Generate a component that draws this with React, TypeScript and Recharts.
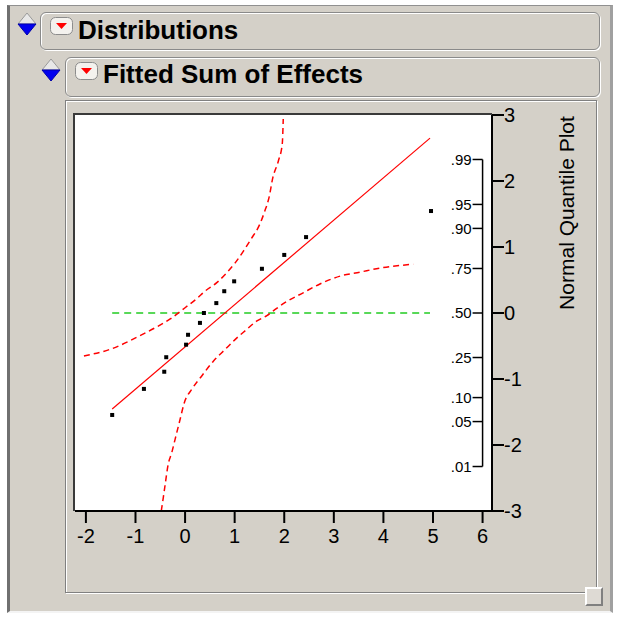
import {
  ComposedChart,
  Line,
  ReferenceLine,
  Scatter,
  XAxis,
  YAxis,
} from "recharts";

const points = [
  { x: -1.47, z: -1.545 },
  { x: -0.83, z: -1.15 },
  { x: -0.42, z: -0.89 },
  { x: -0.38, z: -0.67 },
  { x: 0.02, z: -0.48 },
  { x: 0.06, z: -0.33 },
  { x: 0.3, z: -0.15 },
  { x: 0.38, z: 0.0 },
  { x: 0.63, z: 0.15 },
  { x: 0.79, z: 0.33 },
  { x: 0.99, z: 0.48 },
  { x: 1.55, z: 0.67 },
  { x: 2.0, z: 0.88 },
  { x: 2.44, z: 1.15 },
  { x: 4.96, z: 1.545 },
];

const fitLine = [
  { x: -1.47, z: -1.455 },
  { x: 4.94, z: 2.65 },
];

const zeroLine = [
  { x: -1.47, z: 0 },
  { x: 4.94, z: 0 },
];

const upperBand = [
  { x: -2.04, z: -0.65 },
  { x: -1.51, z: -0.55 },
  { x: -0.85, z: -0.32 },
  { x: -0.57, z: -0.21 },
  { x: -0.3, z: -0.09 },
  { x: 0.0, z: 0.08 },
  { x: 0.24, z: 0.22 },
  { x: 0.4, z: 0.33 },
  { x: 0.64, z: 0.46 },
  { x: 0.84, z: 0.61 },
  { x: 1.01, z: 0.76 },
  { x: 1.17, z: 0.93 },
  { x: 1.33, z: 1.12 },
  { x: 1.51, z: 1.35 },
  { x: 1.61, z: 1.55 },
  { x: 1.69, z: 1.74 },
  { x: 1.77, z: 2.05 },
  { x: 1.88, z: 2.3 },
  { x: 1.96, z: 2.56 },
  { x: 1.98, z: 2.94 },
];

const lowerBand = [
  { x: -0.48, z: -3.0 },
  { x: -0.44, z: -2.8 },
  { x: -0.4, z: -2.59 },
  { x: -0.34, z: -2.29 },
  { x: -0.27, z: -2.12 },
  { x: -0.2, z: -1.91 },
  { x: -0.1, z: -1.61 },
  { x: -0.02, z: -1.37 },
  { x: 0.14, z: -1.15 },
  { x: 0.34, z: -0.95 },
  { x: 0.57, z: -0.73 },
  { x: 0.81, z: -0.55 },
  { x: 1.04, z: -0.38 },
  { x: 1.21, z: -0.27 },
  { x: 1.45, z: -0.12 },
  { x: 1.65, z: -0.04 },
  { x: 1.81, z: 0.05 },
  { x: 2.02, z: 0.16 },
  { x: 2.39, z: 0.31 },
  { x: 2.72, z: 0.44 },
  { x: 3.13, z: 0.56 },
  { x: 3.53, z: 0.62 },
  { x: 3.93, z: 0.68 },
  { x: 4.6, z: 0.74 },
];

const xTicks = [-2, -1, 0, 1, 2, 3, 4, 5, 6];
const zTicks = [-3, -2, -1, 0, 1, 2, 3];

// probability scale drawn at x = 6
const probTicks = [
  { x: 6, z: -2.326, label: ".01" },
  { x: 6, z: -1.645, label: ".05" },
  { x: 6, z: -1.2816, label: ".10" },
  { x: 6, z: -0.6745, label: ".25" },
  { x: 6, z: 0, label: ".50" },
  { x: 6, z: 0.6745, label: ".75" },
  { x: 6, z: 1.2816, label: ".90" },
  { x: 6, z: 1.645, label: ".95" },
  { x: 6, z: 2.326, label: ".99" },
];

const FONT = "Arial, 'Liberation Sans', sans-serif";
const GRAY = "#D4D0C8";

const Square = (props: any) => (
  <rect x={props.cx - 2} y={props.cy - 2} width={4} height={4} fill="#000" />
);

const ProbTick = (props: any) => (
  <g>
    <line x1={props.cx - 10} y1={props.cy} x2={props.cx} y2={props.cy} stroke="#000" strokeWidth={1.5} />
    <text
      x={props.cx - 11}
      y={props.cy}
      dy="0.35em"
      textAnchor="end"
      fontSize={15}
      fontFamily={FONT}
      fill="#000"
    >
      {props.payload.label}
    </text>
  </g>
);

const QuantileLabel = (props: any) => {
  const vb = props.viewBox || {};
  const cx = (vb.x ?? 492) + 75;
  const cy = (vb.y ?? 115) + 98;
  return (
    <text
      x={cx}
      y={cy}
      transform={`rotate(-90, ${cx}, ${cy})`}
      textAnchor="middle"
      dy="0.35em"
      fontSize={21}
      fontFamily={FONT}
      fill="#000"
    >
      Normal Quantile Plot
    </text>
  );
};

function Diamond({ cx, cy }: { cx: number; cy: number }) {
  return (
    <svg
      width={22}
      height={24}
      style={{ position: "absolute", left: cx - 11, top: cy - 12 }}
    >
      <polygon points="11,1 20,12 2,12" fill="#e8e8e8" stroke="#9a9a9a" strokeWidth={1} />
      <polygon points="2,12 20,12 11,23" fill="#0000ee" stroke="#0000aa" strokeWidth={1} />
    </svg>
  );
}

function RedButton({ left, top }: { left: number; top: number }) {
  return (
    <svg width={23} height={18} style={{ position: "absolute", left, top }}>
      <rect x={0.5} y={0.5} width={22} height={17} rx={5} fill="#f4f2ee" stroke="#8c8c8c" />
      <polygon points="6,6 17,6 11.5,12" fill="#ff0000" />
    </svg>
  );
}

function Header({
  left,
  top,
  width,
  height,
  title,
  textTop,
}: {
  left: number;
  top: number;
  width: number;
  height: number;
  title: string;
  textTop: number;
}) {
  return (
    <>
      <div
        style={{
          position: "absolute",
          left,
          top,
          width,
          height,
          boxSizing: "border-box",
          border: "1px solid #8a8a8a",
          borderRadius: 6,
          boxShadow: "inset 1px 1px 0 #fff, 1px 1px 0 #fff",
          background: GRAY,
        }}
      />
      <RedButton left={left + 10} top={top + 5} />
      <div
        style={{
          position: "absolute",
          left: left + 38,
          top: textTop,
          fontFamily: FONT,
          fontWeight: "bold",
          fontSize: 26,
          lineHeight: "26px",
          color: "#000",
          whiteSpace: "nowrap",
        }}
      >
        {title}
      </div>
    </>
  );
}

export default function App() {
  return (
    <div
      style={{
        position: "absolute",
        left: 0,
        top: 0,
        width: 617,
        height: 619,
        background: "#fff",
        overflow: "hidden",
      }}
    >
      <div
        style={{
          position: "absolute",
          left: 7,
          top: 5,
          width: 606,
          height: 608,
          boxSizing: "border-box",
          background: GRAY,
          borderLeft: "3px solid #707070",
          borderTop: "1px solid #909090",
          borderRight: "3px solid #a0a0a0",
          borderBottom: "2px solid #f4f4f4",
        }}
      />
      <Diamond cx={27} cy={24} />
      <Header left={40} top={12} width={560} height={38} title="Distributions" textTop={17} />
      <Diamond cx={51} cy={70} />
      <Header left={65} top={57} width={535} height={40} title="Fitted Sum of Effects" textTop={61} />

      {/* report panel */}
      <div
        style={{
          position: "absolute",
          left: 65,
          top: 100,
          width: 532,
          height: 493,
          boxSizing: "border-box",
          border: "1px solid #808080",
          boxShadow: "inset 1px 1px 0 #fff, 1px 1px 0 #fff",
        }}
      />
      <div
        style={{
          position: "absolute",
          left: 585,
          top: 587,
          width: 18,
          height: 19,
          boxSizing: "border-box",
          background: "#dedad4",
          borderTop: "2px solid #fff",
          borderLeft: "2px solid #fff",
          borderRight: "2px solid #808080",
          borderBottom: "2px solid #808080",
        }}
      />

      {/* plot frame */}
      <div
        style={{
          position: "absolute",
          left: 73,
          top: 113,
          width: 419,
          height: 398,
          boxSizing: "border-box",
          background: "#fff",
          borderLeft: "2px solid #3a3a3a",
          borderTop: "2px solid #3a3a3a",
        }}
      />

      <div style={{ position: "absolute", left: 0, top: 0 }}>
        <ComposedChart
          width={617}
          height={619}
          margin={{ top: 115, left: 75, right: 75, bottom: 68 }}
        >
          <XAxis
            type="number"
            dataKey="x"
            domain={[-2.22, 6.19]}
            ticks={xTicks}
            interval={0}
            allowDataOverflow
            height={40}
            tickSize={12}
            tickMargin={6}
            axisLine={{ stroke: "#000", strokeWidth: 2 }}
            tickLine={{ stroke: "#000", strokeWidth: 2 }}
            tick={{ fontSize: 20, fill: "#000", fontFamily: FONT }}
          />
          <YAxis
            type="number"
            dataKey="z"
            orientation="right"
            domain={[-3, 3]}
            ticks={zTicks}
            interval={0}
            allowDataOverflow
            width={50}
            tickSize={12}
            tickMargin={0}
            axisLine={{ stroke: "#000", strokeWidth: 2 }}
            tickLine={{ stroke: "#000", strokeWidth: 2 }}
            tick={{ fontSize: 20, fill: "#000", fontFamily: FONT }}
            label={<QuantileLabel />}
          />
          <ReferenceLine
            segment={[
              { x: 6, y: -2.326 },
              { x: 6, y: 2.326 },
            ]}
            stroke="#000"
            strokeWidth={1.5}
          />
          <Scatter data={probTicks} dataKey="z" shape={<ProbTick />} isAnimationActive={false} />
          <Line
            data={zeroLine}
            dataKey="z"
            type="linear"
            stroke="#22cc22"
            strokeWidth={1.5}
            strokeDasharray="7 5"
            dot={false}
            activeDot={false}
            isAnimationActive={false}
          />
          <Line
            data={upperBand}
            dataKey="z"
            type="monotone"
            stroke="#ff0000"
            strokeWidth={1.5}
            strokeDasharray="6 4"
            dot={false}
            activeDot={false}
            isAnimationActive={false}
          />
          <Line
            data={lowerBand}
            dataKey="z"
            type="monotone"
            stroke="#ff0000"
            strokeWidth={1.5}
            strokeDasharray="6 4"
            dot={false}
            activeDot={false}
            isAnimationActive={false}
          />
          <Line
            data={fitLine}
            dataKey="z"
            type="linear"
            stroke="#ff0000"
            strokeWidth={1.2}
            dot={false}
            activeDot={false}
            isAnimationActive={false}
          />
          <Scatter data={points} dataKey="z" shape={<Square />} isAnimationActive={false} />
        </ComposedChart>
      </div>
    </div>
  );
}
